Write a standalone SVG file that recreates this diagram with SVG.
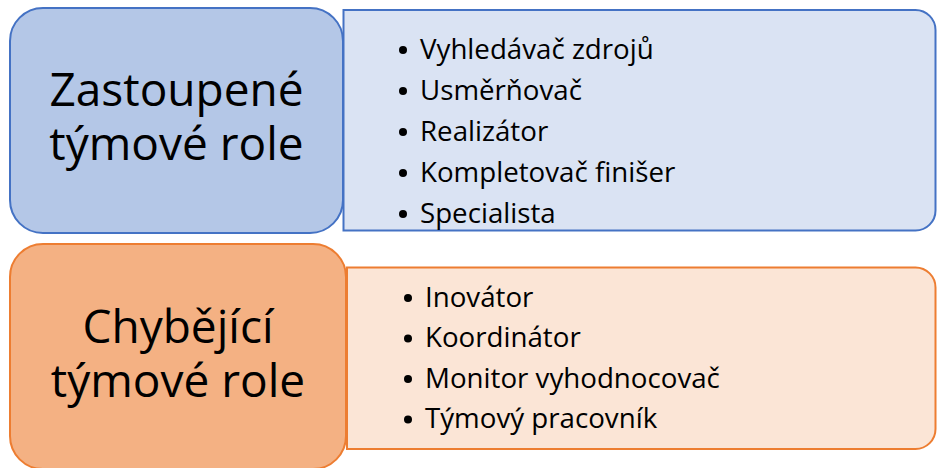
<svg xmlns="http://www.w3.org/2000/svg" width="937" height="468" viewBox="0 0 937 468">
<style>
.blue{stroke:#4472C4;stroke-width:2}
.orange{stroke:#ED7D31;stroke-width:2}
.title{font-family:"Open Sans","Noto Sans",sans-serif;font-size:46px;fill:#000;text-anchor:middle}
.item{font-family:"Open Sans","Noto Sans",sans-serif;font-size:27.7px;fill:#000}
.dot{fill:#000}
</style>
<g id="connectors"></g>
<g id="top-list">
<path class="blue" fill="#DAE3F3" d="M343.5,10 H915.5 A20,20 0 0 1 935.5,30 V210.5 A20,20 0 0 1 915.5,230.5 H343.5 Z"/>
<circle class="dot" cx="403" cy="50" r="4"/>
<circle class="dot" cx="403" cy="91" r="4"/>
<circle class="dot" cx="403" cy="132" r="4"/>
<circle class="dot" cx="403" cy="173" r="4"/>
<circle class="dot" cx="403" cy="214" r="4"/>
<text class="item" x="420" y="59">Vyhledávač zdrojů</text>
<text class="item" x="420" y="100">Usměrňovač</text>
<text class="item" x="420" y="141">Realizátor</text>
<text class="item" x="420" y="182">Kompletovač finišer</text>
<text class="item" x="420" y="223">Specialista</text>
</g>
<g id="top-title">
<rect class="blue" fill="#B4C7E7" x="10" y="8" width="333" height="225" rx="33" ry="33"/>
<text class="title"><tspan x="176.5" y="106">Zastoupené</tspan><tspan x="176.5" y="160">týmové role</tspan></text>
</g>
<g id="bottom-list">
<path class="orange" fill="#FBE5D6" d="M347,267.5 H915.5 A20,20 0 0 1 935.5,287.5 V429 A20,20 0 0 1 915.5,449 H347 Z"/>
<circle class="dot" cx="408" cy="298" r="4"/>
<circle class="dot" cx="408" cy="338.5" r="4"/>
<circle class="dot" cx="408" cy="379" r="4"/>
<circle class="dot" cx="408" cy="419.5" r="4"/>
<text class="item" x="425" y="306.5">Inovátor</text>
<text class="item" x="425" y="347">Koordinátor</text>
<text class="item" x="425" y="387.5">Monitor vyhodnocovač</text>
<text class="item" x="425" y="428">Týmový pracovník</text>
</g>
<g id="bottom-title">
<rect class="orange" fill="#F4B183" x="10" y="244" width="336" height="225" rx="33" ry="33"/>
<text class="title"><tspan x="178" y="343">Chybějící</tspan><tspan x="178" y="397">týmové role</tspan></text>
</g>
</svg>
